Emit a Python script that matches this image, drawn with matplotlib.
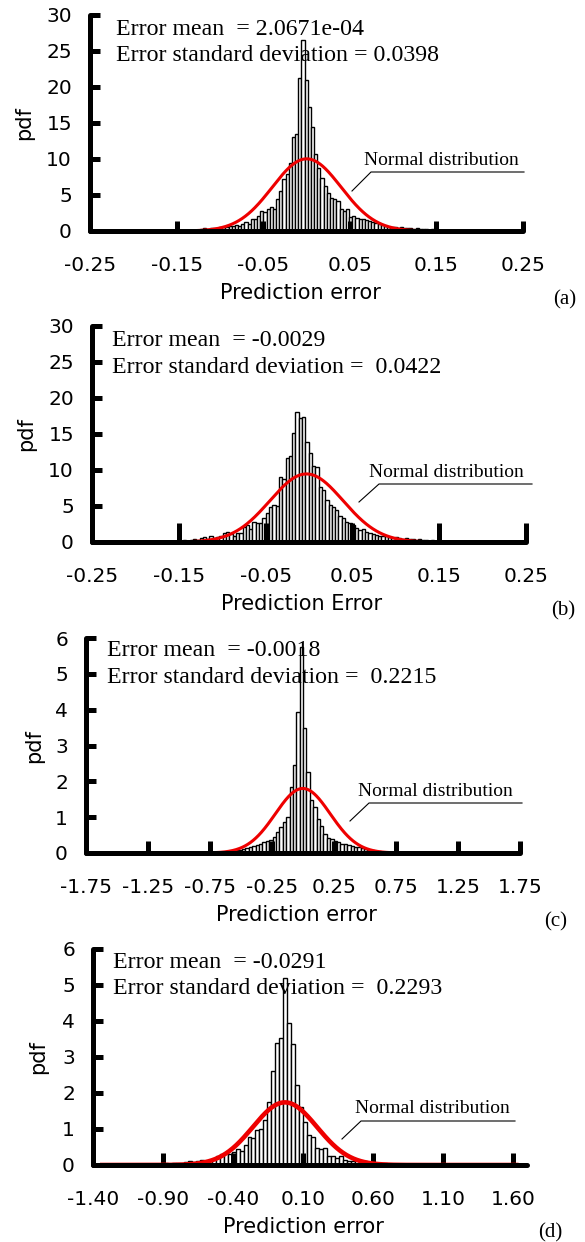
import numpy as np
import matplotlib
matplotlib.use("Agg")
import matplotlib.pyplot as plt
from matplotlib.lines import Line2D

plt.rcParams["axes.unicode_minus"] = False
plt.rcParams["font.family"] = ["DejaVu Sans"]

# ---------------- data ----------------
# (a) histogram: 120 bins over the error range, pdf heights
a_range = (-0.207, 0.232)
a_heights = [
    0, 0, 0.05, 0, 0.05, 0, 0.05, 0.05, 0, 0.05, 0.1, 0.05, 0.05, 0.1, 0.05, 0.1, 0.1, 0.05, 0.15, 0.1, 0.15, 0.15,
    0.2, 0.25, 0.35, 0.3, 0.4, 0.45, 0.4, 0.55, 0.5, 0.6, 0.65, 0.75,
    0.8, 0.7, 1.0, 1.2, 1.0, 1.6, 1.6, 2.1, 2.8, 2.6, 3.0, 3.3, 3.1, 4.4, 5.6, 7.2, 7.9, 9.5, 13.0, 13.5,
    21.2, 26.5, 21.0, 17.2, 14.4, 10.7,
    8.8, 7.4, 6.2, 5.3, 4.6, 4.4, 4.2, 3.0, 2.8, 3.0, 2.0, 2.1, 1.8, 1.7, 1.6, 1.5, 1.4, 1.2, 1.1, 1.0,
    0.8, 0.7, 0.6, 0.55, 0.5, 0.45, 0.5, 0.4, 0.35, 0.4, 0.3, 0.35,
    0.3, 0.25, 0.3, 0.2, 0.25, 0.3, 0.2, 0.15, 0.2, 0.2, 0.15, 0.1, 0.15, 0.2, 0.1, 0.15, 0.1, 0.1,
    0.15, 0.05, 0.1, 0.1, 0.05, 0.1, 0.05, 0.05, 0.1, 0.05,
]
a_mean, a_std = 2.0671e-04, 0.0398

# (b) histogram: 100 bins
b_range = (-0.168, 0.213)
b_heights = [
    0.1, 0.15, 0.2, 0.15, 0.2,
    0.2, 0.25, 0.2, 0.3, 0.35, 0.3,
    0.5, 0.65, 0.4, 0.9, 0.5, 0.7, 0.9, 1.2, 1.4, 1.1, 0.9, 1.3, 1.2,
    2.1, 2.4, 1.8, 2.8, 2.6, 2.7, 3.3, 4.0, 4.9, 5.1, 5.0,
    9.0, 8.8, 11.6, 11.9, 15.1, 18.1, 17.2, 17.4, 13.9, 12.3, 10.5, 10.4, 7.7, 7.2, 5.8, 5.1, 4.9, 4.4,
    3.6, 3.3, 2.8, 2.6, 2.4, 1.9, 1.7, 1.8, 1.4, 1.2, 1.1, 1.0, 0.9,
    0.8, 0.9, 0.7, 0.6, 0.65, 0.5, 0.45, 0.5, 0.35, 0.4, 0.3, 0.35, 0.25, 0.3, 0.2, 0.25, 0.2,
    0.15, 0.1, 0.15, 0.1, 0.1, 0.15, 0.1, 0.05, 0.1, 0.1, 0.05, 0.1, 0.05, 0.05, 0.1, 0.05, 0.05,
]
b_mean, b_std = -0.0029, 0.0422

# (c) histogram: 120 bins
c_range = (-1.53, 1.75)
c_heights = [
    0, 0.01, 0, 0, 0.01, 0, 0.01, 0.01, 0, 0.01, 0.01, 0.01, 0.02, 0.01, 0.01, 0.02, 0.01, 0.02, 0.02, 0.02,
    0.02, 0.03, 0.02, 0.03, 0.03, 0.02, 0.03, 0.04, 0.03, 0.04, 0.03, 0.04, 0.04,
    0.04, 0.05, 0.06, 0.08, 0.09, 0.11, 0.13, 0.16, 0.19, 0.22, 0.26, 0.3, 0.33, 0.36, 0.46, 0.6, 0.73, 0.87, 1.0,
    1.85, 2.46, 3.94, 5.75, 3.48, 2.27, 1.48, 1.29,
    0.95, 0.74, 0.54, 0.42, 0.38, 0.33, 0.3, 0.26, 0.24, 0.21, 0.2, 0.16, 0.18, 0.13, 0.11, 0.09, 0.08,
    0.06, 0.05, 0.04, 0.03, 0.03, 0.02, 0.02, 0.02, 0.01,
    0.01, 0.02, 0.01, 0.01, 0, 0.01, 0.01, 0, 0.01, 0, 0.01, 0, 0, 0.01, 0, 0, 0.01, 0, 0, 0, 0.01,
    0, 0, 0, 0, 0.01, 0, 0, 0, 0, 0, 0, 0, 0,
]
c_mean, c_std = -0.0018, 0.2215

# (d) histogram: 105 bins
d_range = (-1.35, 1.64)
d_heights = [
    0.01, 0.02, 0.01, 0.02, 0.02, 0.01, 0.02, 0.03, 0.02, 0.02, 0.03, 0.02, 0.03, 0.03,
    0.04, 0.03, 0.05, 0.04, 0.05, 0.06,
    0.06, 0.08, 0.1, 0.08, 0.1, 0.15, 0.12, 0.15, 0.18, 0.25, 0.3, 0.32, 0.3, 0.35, 0.45, 0.4,
    0.55, 0.78, 0.75, 0.96, 1.0, 1.25,
    1.76, 2.6, 3.38, 3.52, 5.2, 3.95, 3.36, 2.22, 1.6,
    1.2, 0.82, 0.78, 0.47, 0.45, 0.46, 0.26, 0.25, 0.2, 0.24, 0.15, 0.12, 0.1, 0.14, 0.12, 0.1, 0.08, 0.06,
    0.05, 0.04, 0.05, 0.03, 0.03, 0.02, 0.03, 0.02, 0.02, 0.01, 0.02, 0.02, 0.01, 0.01, 0.02, 0.01,
    0.01, 0.01, 0.02, 0.01, 0.01, 0.01, 0.01, 0.02, 0.01, 0.01, 0.01, 0.01, 0.01, 0.01, 0.02, 0.01,
    0.01, 0.01, 0.01, 0.01,
]
d_mean, d_std = -0.0291, 0.2293

ab_xticks = [-0.25, -0.15, -0.05, 0.05, 0.15, 0.25]
ab_xticklabels = ["-0.25", "-0.15", "-0.05", "0.05", "0.15", "0.25"]
ab_yticks = [0, 5, 10, 15, 20, 25, 30]
c_xticks = [-1.75, -1.25, -0.75, -0.25, 0.25, 0.75, 1.25, 1.75]
c_xticklabels = ["-1.75", "-1.25", "-0.75", "-0.25", "0.25", "0.75", "1.25", "1.75"]
d_xticks = [-1.4, -0.9, -0.4, 0.1, 0.6, 1.1, 1.6]
d_xticklabels = ["-1.40", "-0.90", "-0.40", "0.10", "0.60", "1.10", "1.60"]
cd_yticks = [0, 1, 2, 3, 4, 5, 6]

# ---------------- figure ----------------
W, H = 585, 1242
fig = plt.figure(figsize=(W / 100, H / 100), dpi=100)
SERIF = "Liberation Serif"


def fx(px):
    return px / W


def fy(py):
    return 1 - py / H


def panel(box, rng, heights, mean, std, xlim, ylim, xticks, xticklabels, yticks,
          xlabel, letter, stats, normal_txt, leader, curve_lw, xtick_len, ylabel_pos):
    left, right, bottom, top = box
    ax = fig.add_axes([fx(left), fy(bottom), (right - left) / W, (bottom - top) / H])
    lo, hi = rng
    n = len(heights)
    edges = np.linspace(lo, hi, n + 1)
    centers = 0.5 * (edges[:-1] + edges[1:])
    ax.bar(centers, heights, width=edges[1] - edges[0], color="white",
           edgecolor="black", linewidth=1.0, zorder=1)
    xs = np.linspace(lo, hi, 600)
    pdf = np.exp(-0.5 * ((xs - mean) / std) ** 2) / (std * np.sqrt(2 * np.pi))
    ax.plot(xs, pdf, color="#ee0000", lw=curve_lw, zorder=2, solid_capstyle="butt")

    ax.set_xlim(*xlim)
    ax.set_ylim(*ylim)
    ax.set_xticks(xticks)
    ax.set_xticklabels(xticklabels)
    ax.set_yticks(yticks)
    ax.set_yticklabels([str(v) for v in yticks])
    for s in ("top", "right"):
        ax.spines[s].set_visible(False)
    for s in ("left", "bottom"):
        ax.spines[s].set_linewidth(3.6)
        ax.spines[s].set_capstyle("round")
    ax.tick_params(axis="x", direction="in", length=xtick_len, width=3.6,
                   labelsize=14.5, pad=18)
    ax.tick_params(axis="y", direction="in", length=7.5, width=3.6,
                   labelsize=14.5, pad=13)
    ax.patch.set_alpha(0)

    fig.text(fx(ylabel_pos[0]), fy(ylabel_pos[1]), "pdf", rotation=90,
             ha="center", va="center", fontsize=15)
    fig.text(fx(xlabel[1]), fy(bottom + 68), xlabel[0], ha="center",
             va="baseline", fontsize=15)
    fig.text(fx(letter[1]), fy(letter[2]), letter[0], ha="center", va="center",
             fontsize=15, family=SERIF)

    (sx, sy1, sy2), (l1, l2) = stats
    fig.text(fx(sx), fy(sy1), l1, ha="left", va="baseline", fontsize=17.2, family=SERIF)
    fig.text(fx(sx), fy(sy2), l2, ha="left", va="baseline", fontsize=17.2, family=SERIF)

    tx, ty = normal_txt
    fig.text(fx(tx), fy(ty), "Normal distribution", ha="left", va="baseline",
             fontsize=14, family=SERIF)
    (x_end, y_line, x_start, x_tip, y_tip) = leader
    fig.add_artist(Line2D([fx(x_end), fx(x_start), fx(x_tip)],
                          [fy(y_line), fy(y_line), fy(y_tip)],
                          color="black", lw=0.8))
    return ax


panel((90, 523, 231, 15), a_range, a_heights, a_mean, a_std,
      (-0.25, 0.25), (0, 30), ab_xticks, ab_xticklabels, ab_yticks,
      ("Prediction error", 300), ("(a)", 565, 300),
      ((116, 35, 61), ("Error mean  = 2.0671e-04",
                       "Error standard deviation = 0.0398")),
      (364, 165), (524, 172, 371, 352, 191), 2.2, 7, (24, 123))

panel((92, 526, 542, 326), b_range, b_heights, b_mean, b_std,
      (-0.25, 0.25), (0, 30), ab_xticks, ab_xticklabels, ab_yticks,
      ("Prediction Error", 302), ("(b)", 563, 611),
      ((112, 346, 373), ("Error mean  = -0.0029",
                         "Error standard deviation =  0.0422")),
      (369, 477), (532, 484, 379, 359, 502), 2.2, 13.5, (26, 434))

panel((86, 520, 853, 638), c_range, c_heights, c_mean, c_std,
      (-1.75, 1.75), (0, 6), c_xticks, c_xticklabels, cd_yticks,
      ("Prediction error", 296), ("(c)", 556, 922),
      ((107, 656, 683), ("Error mean  = -0.0018",
                         "Error standard deviation =  0.2215")),
      (358, 796), (522, 803, 369, 350, 821), 2.2, 8.5, (34, 746))

panel((93, 527, 1165, 949), d_range, d_heights, d_mean, d_std,
      (-1.4, 1.7), (0, 6), d_xticks, d_xticklabels, cd_yticks,
      ("Prediction error", 303), ("(d)", 550, 1233),
      ((113, 968, 994), ("Error mean  = -0.0291",
                         "Error standard deviation =  0.2293")),
      (355, 1113), (515, 1121, 361, 342, 1139), 3.3, 8.5, (38, 1057))

fig.savefig("out.png", dpi=100)
